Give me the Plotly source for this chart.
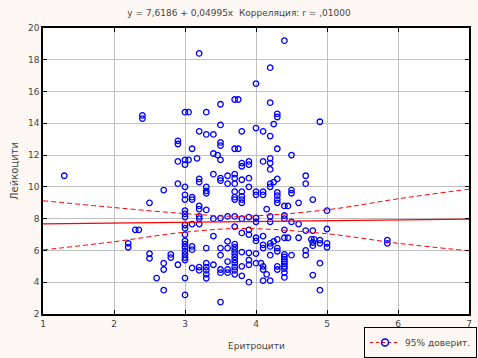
import plotly.graph_objects as go

# ---- data ----
points = [
    (3.2,18.4),(4.4,19.2),(4.2,17.5),(4.0,16.5),(3.7,15.5),(3.75,15.5),(3.5,15.2),(4.2,15.3),
    (3.0,14.7),(3.05,14.7),(3.3,14.7),(2.4,14.3),(2.4,14.5),(4.3,14.4),(4.3,14.6),(4.9,14.1),
    (3.5,13.9),(4.25,13.95),(3.2,13.5),(3.8,13.5),(4.0,13.7),(4.1,13.5),(3.3,13.3),(3.4,13.3),
    (4.2,13.2),(2.9,12.7),(2.9,12.9),(3.5,12.6),(3.5,12.8),(3.7,12.4),(3.75,12.4),(3.1,12.4),
    (4.3,12.4),(3.4,12.1),(3.46,12.0),(4.5,12.0),(3.17,11.8),(3.5,11.7),(2.9,11.6),(3.0,11.7),
    (3.05,11.7),(3.0,11.4),(3.8,11.3),(3.8,11.5),(3.9,11.4),(3.9,11.6),(4.1,11.6),(4.2,11.8),
    (4.2,11.5),(4.2,11.1),
    (1.3,10.7),(2.7,9.8),(2.5,9.0),(2.9,10.2),(3.4,10.8),(3.5,10.4),(3.5,10.55),(3.6,10.7),
    (3.7,10.8),(3.7,10.55),(3.8,10.45),(3.9,10.55),(3.0,10.0),(3.2,10.3),(3.2,10.5),(3.3,10.0),
    (3.6,10.2),(3.7,10.2),(3.7,9.7),(3.8,9.7),(3.8,9.4),(3.3,9.6),(3.3,9.75),(3.1,9.35),
    (3.0,9.5),(3.0,9.2),(4.7,10.7),(4.7,10.2),(4.3,10.5),(4.25,10.3),(4.2,10.0),(4.2,10.2),
    (3.9,10.0),(4.0,9.5),(4.0,9.7),(4.1,9.5),(4.1,9.7),(4.3,9.45),(4.3,9.65),(4.5,9.6),
    (4.5,9.8),(4.8,9.2),(4.6,9.0),(4.3,9.2),(4.3,9.0),(3.1,9.2),(3.2,8.6),(3.2,8.8),
    (3.3,8.55),(3.7,9.2),(3.7,9.35),(3.8,9.0),(3.8,9.2),(4.4,8.8),(4.45,8.8),(4.15,8.6),
    (5.0,8.5),(3.0,8.5),(3.0,8.1),(3.0,8.3),
    (3.2,8.0),(3.2,8.15),(3.4,8.0),(3.5,8.04),(3.6,8.14),(3.7,8.14),(3.8,8.0),(3.9,8.1),
    (4.0,7.8),(4.0,8.05),(4.2,8.15),(4.2,7.8),(4.4,8.0),(4.4,8.2),(4.5,7.8),(4.6,7.66),
    (3.0,7.4),(3.0,7.6),(3.1,7.66),(3.2,7.66),(3.7,7.5),(3.8,7.1),(3.9,7.3),(3.9,7.0),
    (4.4,7.3),(4.7,7.25),(4.8,7.25),(5.0,7.35),(3.4,6.9),(3.0,7.0),(2.3,7.3),(2.35,7.3),
    (4.1,6.9),(4.0,6.6),(4.0,6.8),(4.4,6.8),(4.45,6.8),(4.6,6.8),(4.78,6.7),(4.82,6.7),
    (4.3,6.7),(4.25,6.57),
    (2.2,6.2),(2.2,6.45),(2.5,5.8),(2.5,5.5),(2.8,5.55),(2.8,5.75),(2.7,5.2),(2.7,4.8),
    (2.9,5.1),(2.6,4.26),(2.7,3.5),(3.0,3.2),(3.5,2.75),(4.9,3.5),(4.8,4.45),(4.9,5.2),
    (5.85,6.45),(5.85,6.65),(5.0,6.2),(5.0,6.45),(4.9,6.45),(4.9,6.65),(4.8,6.3),(4.8,6.5),
    (3.0,6.6),(3.0,6.4),(3.0,6.2),(3.0,5.95),(3.0,5.75),(3.0,5.55),(3.0,5.4),(3.0,4.26),
    (3.1,6.05),(3.1,6.25),(3.1,4.9),(3.2,4.75),(3.2,4.95),(3.3,6.15),(3.3,5.2),(3.3,4.95),
    (3.3,4.75),(3.3,4.5),(3.3,4.25),(3.4,5.1),(3.5,6.15),(3.5,5.7),(3.5,4.6),(3.5,4.8),
    (3.6,6.57),(3.6,6.15),(3.6,5.3),(3.6,4.6),(3.6,4.8),(3.7,6.4),(3.7,6.2),(3.7,6.0),
    (3.7,5.8),(3.7,5.6),(3.7,5.4),(3.7,5.2),(3.7,4.95),(3.7,4.75),(3.7,4.5),(3.8,5.9),
    (3.8,5.0),(3.8,4.4),(3.9,5.85),(3.9,5.4),(3.9,5.1),(3.9,4.0),(4.0,5.8),(4.0,5.2),
    (4.07,5.2),(4.1,6.15),(4.1,6.35),(4.1,4.8),(4.1,5.0),(4.15,4.5),(4.1,4.1),(4.2,4.1),
    (4.2,6.25),(4.2,6.45),(4.2,5.7),(4.3,5.95),(4.3,6.15),(4.3,4.8),(4.3,5.0),(4.4,5.75),
    (4.4,5.6),(4.4,5.45),(4.4,5.3),(4.4,5.15),(4.4,5.0),(4.4,4.85),(4.4,4.6),(4.4,4.3),
    (4.5,5.7),(4.7,6.0),(4.7,5.7),
]
erythrocytes = [p[0] for p in points]
leukocytes = [p[1] for p in points]

intercept = 7.6186
slope = 0.04995
line_x = [1, 7]

ci_x = [1, 2, 3, 3.8, 5, 6, 7]
ci_upper = [9.13, 8.70, 8.32, 8.15, 8.56, 9.25, 9.86]
ci_lower = [6.03, 6.55, 7.15, 7.38, 7.05, 6.45, 5.98]

x_ticks = [1, 2, 3, 4, 5, 6, 7]
y_ticks = [2, 4, 6, 8, 10, 12, 14, 16, 18, 20]

title_text = "y = 7,6186 + 0,04995x  Корреляция: r = ,01000"
x_title = "Еритроцити"
y_title = "Лейкоцити"
legend_text = "95% доверит."

FONT = "DejaVu Sans"
TXT = "#444444"
PAPER = "#fdf8f4"

fig = go.Figure()
fig.add_trace(go.Scatter(
    x=erythrocytes, y=leukocytes, mode="markers",
    marker=dict(symbol="circle-open", size=5.5, color="#0000ff", line=dict(width=1.3, color="#0000ff")),
    showlegend=False, hoverinfo="skip"))
fig.add_trace(go.Scatter(
    x=line_x, y=[intercept + slope * v for v in line_x], mode="lines",
    line=dict(color="#ff0000", width=1.3), showlegend=False, hoverinfo="skip"))
fig.add_trace(go.Scatter(
    x=ci_x, y=ci_upper, mode="lines", line=dict(color="#ff0000", width=1, dash="5px,3px", shape="spline"),
    showlegend=False, hoverinfo="skip"))
fig.add_trace(go.Scatter(
    x=ci_x, y=ci_lower, mode="lines", line=dict(color="#ff0000", width=1, dash="5px,3px", shape="spline"),
    showlegend=False, hoverinfo="skip"))
fig.add_trace(go.Scatter(
    x=[None], y=[None], mode="lines+markers", name=legend_text,
    line=dict(color="#ff0000", width=1, dash="dot"),
    marker=dict(symbol="circle-open", size=7, color="#0000ff", line=dict(width=1.5, color="#0000ff")),
    showlegend=True))

axis_common = dict(
    showgrid=True, gridcolor="#c0c0c0", gridwidth=1,
    showline=True, linecolor="black", linewidth=1.5, mirror="ticks",
    ticks="inside", ticklen=4, tickcolor="black", tickwidth=1,
    zeroline=False, tickfont=dict(family=FONT, size=9, color=TXT),
)

fig.update_layout(
    width=478, height=358,
    margin=dict(l=43, r=9, t=28, b=44, autoexpand=False),
    paper_bgcolor=PAPER, plot_bgcolor="white",
    font=dict(family=FONT, size=9, color=TXT),
    title=dict(text=title_text, x=0.5, xref="container", xanchor="center",
               y=1 - 13 / 358, yanchor="middle",
               font=dict(family=FONT, size=9, color=TXT)),
    xaxis=dict(range=[1, 7], tickvals=x_ticks, **axis_common),
    yaxis=dict(range=[2, 20], tickvals=y_ticks, **axis_common),
    legend=dict(xref="container", yref="container", x=0.998, y=0.0,
                xanchor="right", yanchor="bottom",
                bordercolor="black", borderwidth=1, bgcolor=PAPER,
                font=dict(family=FONT, size=9, color=TXT),
                itemwidth=30, tracegroupgap=0),
    annotations=[
        dict(text=x_title, xref="paper", yref="paper", x=0.5, y=(314.3 - 346.5) / 286,
             xanchor="center", yanchor="middle", showarrow=False,
             font=dict(family=FONT, size=9, color=TXT)),
        dict(text=y_title, xref="paper", yref="paper", x=(14 - 43) / 426, y=0.5,
             xanchor="center", yanchor="middle", textangle=-90, showarrow=False,
             font=dict(family=FONT, size=10, color=TXT)),
    ],
)

fig.write_html(
    "out.html",
    config={"displayModeBar": False},
    post_script="document.body.style.margin='0';document.body.style.background='" + PAPER + "';",
)
